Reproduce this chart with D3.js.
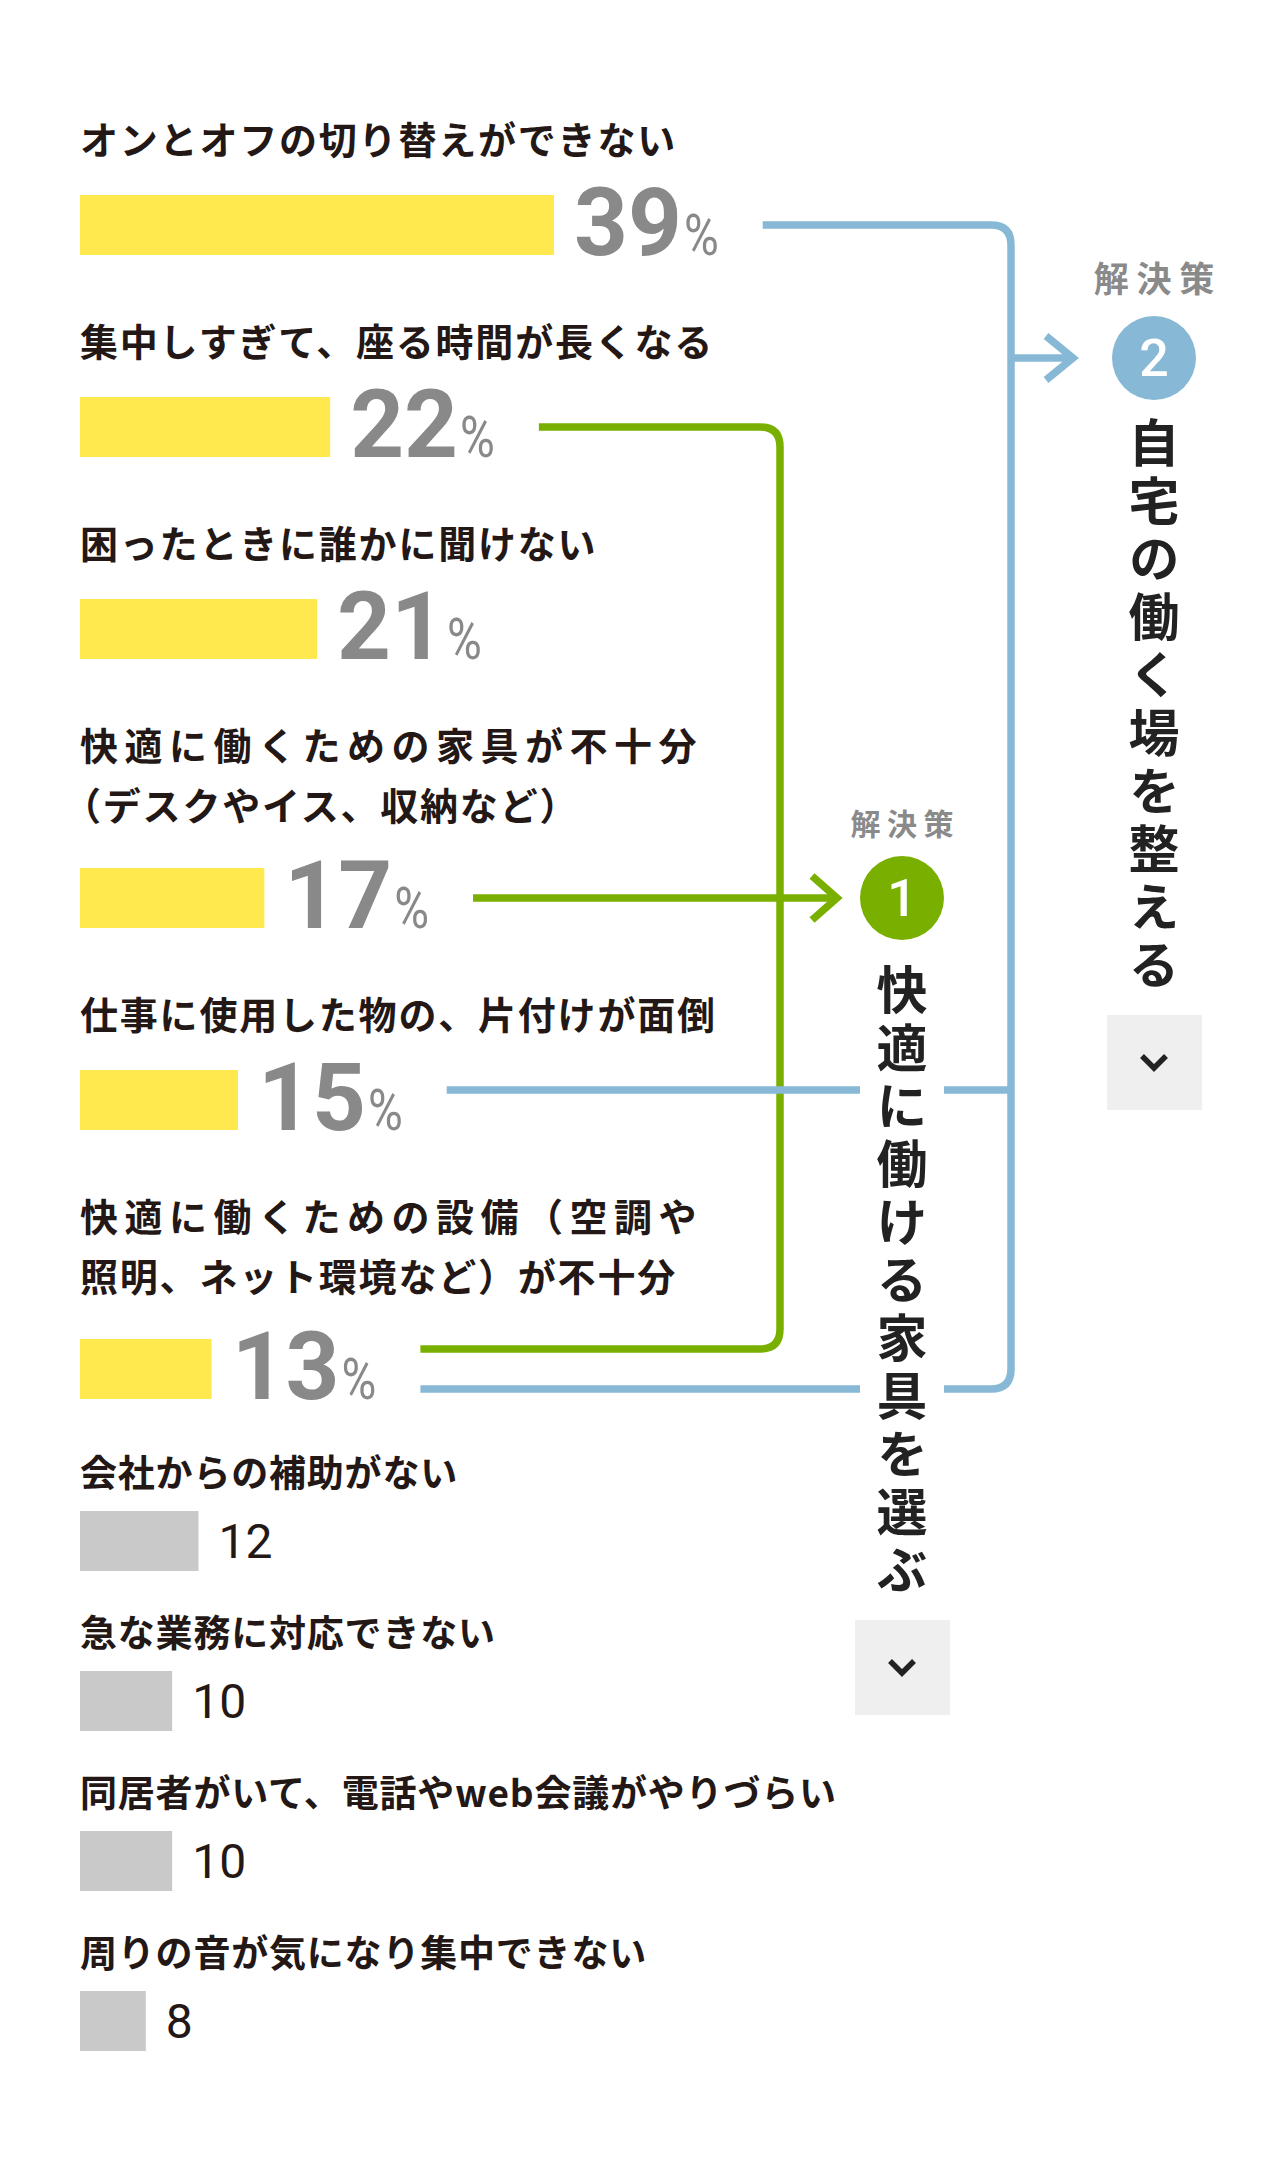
<!DOCTYPE html>
<html><head><meta charset="utf-8">
<script src="https://cdn.jsdelivr.net/npm/d3@7"></script>
<style>
html,body{margin:0;padding:0;background:#fff;}
svg{display:block;}
</style></head><body>
<svg id="chart" width="1280" height="2160"></svg>
<script>
// ---- data ----
const categories = [
  ["オンとオフの切り替えができない"],
  ["集中しすぎて、座る時間が長くなる"],
  ["困ったときに誰かに聞けない"],
  ["快適に働くための家具が不十分", "（デスクやイス、収納など）"],
  ["仕事に使用した物の、片付けが面倒"],
  ["快適に働くための設備（空調や", "照明、ネット環境など）が不十分"],
  ["会社からの補助がない"],
  ["急な業務に対応できない"],
  ["同居者がいて、電話やweb会議がやりづらい"],
  ["周りの音が気になり集中できない"]
];
const values = [39, 22, 21, 17, 15, 13, 12, 10, 10, 8];
const highlighted = [true, true, true, true, true, true, false, false, false, false];
const solution1Rows = [1, 3, 5];   // 快適に働ける家具を選ぶ
const solution1Target = 3;
const solution2Rows = [0, 4, 5];   // 自宅の働く場を整える
const solutionTitles = ["快適に働ける家具を選ぶ", "自宅の働く場を整える"];
const solutionNumbers = ["1", "2"];
const solutionLabel = "解決策";

// ---- style ----
const C = {yellow:"#ffe94f", gray:"#c9c9c9", green:"#79b000", blue:"#87b9d7",
           text:"#231815", num:"#898989", dark:"#222222", box:"#efefef", label:"#8a8a8a"};
const JP = "'Noto Sans CJK JP','Noto Sans CJK SC',sans-serif";
const NUM = "Roboto,'Liberation Sans',sans-serif";

const svg = d3.select("#chart");
const X0 = 80;
const x = d3.scaleLinear().domain([3, 39]).range([0, 474]);

// ---- layout rows ----
let yCur = 140;
const rows = categories.map((lines, i) => {
  const hl = highlighted[i];
  const r = {i, lines, v: values[i], hl, titleY: yCur};
  const lastLine = yCur + (lines.length - 1) * 60;
  r.barC = lastLine + (hl ? (lines.length > 1 ? 92 : 85) : 68);
  const nextHl = highlighted[i + 1];
  yCur = r.barC + (hl ? (nextHl ? 117 : 104) : 92);
  return r;
});

const gRows = svg.append("g");
rows.forEach(r => {
  r.lines.forEach((t, k) => {
    const multiFirst = r.lines.length > 1 && k === 0;
    gRows.append("text")
      .attr("x", X0 + (t.startsWith("（") ? -17 : 0)).attr("y", r.titleY + k * 60 + 14)
      .attr("font-family", JP).attr("font-weight", 700)
      .attr("font-size", r.hl ? 38 : 37)
      .attr("letter-spacing", r.hl ? (multiFirst ? 6.5 : 1.8) : 0.8)
      .attr("fill", C.text).text(t);
  });
  const w = x(r.v);
  gRows.append("rect").attr("x", X0).attr("y", r.barC - 30)
    .attr("width", w).attr("height", 60).attr("fill", r.hl ? C.yellow : C.gray);
  if (r.hl) {
    const nx = X0 + w + 20;
    const nt = gRows.append("text").attr("x", nx).attr("y", r.barC + 30)
      .attr("font-family", NUM).attr("font-weight", 700).attr("font-size", 94)
      .attr("fill", C.num).text(r.v);
    const nEnd = nx + nt.node().getComputedTextLength();
    const pt = gRows.append("text")
      .attr("transform", `translate(${nEnd + 2},${r.barC + 30}) scale(0.82,1)`)
      .attr("font-family", NUM).attr("font-weight", 400).attr("font-size", 58)
      .attr("fill", C.num).text("%");
    r.lineX = nEnd + 2 + pt.node().getComputedTextLength() * 0.82 + 44;
  } else {
    gRows.append("text").attr("x", X0 + w + 20).attr("y", r.barC + 17)
      .attr("font-family", NUM).attr("font-weight", 400).attr("font-size", 48)
      .attr("fill", C.text).text(r.v);
  }
});

// ---- connectors ----
const SW = 7.5, R = 20;
const greenX = 780, blueX = 1011;
const s1 = {x: 902, y: rows[solution1Target].barC};
const s2 = {x: 1154, y: 358};
const gapL = s1.x - 42, gapR = s1.x + 42;
const shared = solution1Rows.filter(i => solution2Rows.includes(i));
const yG = i => rows[i].barC + (shared.includes(i) ? -20 : 0);
const yB = i => rows[i].barC + (shared.includes(i) ? 20 : 0);

const gLines = svg.append("g").attr("fill", "none").attr("stroke-width", SW);

// green
const gTop = solution1Rows[0], gBot = solution1Rows[solution1Rows.length - 1];
const y1 = yG(gTop), y2 = yG(gBot);
gLines.append("path").attr("stroke", C.green)
  .attr("d", `M${rows[gTop].lineX},${y1} H${greenX - R} Q${greenX},${y1} ${greenX},${y1 + R} V${y2 - R} Q${greenX},${y2} ${greenX - R},${y2} H${rows[gBot].lineX}`);
const ya = yG(solution1Target);
const tip1 = s1.x - 65;
gLines.append("path").attr("stroke", C.green)
  .attr("d", `M${rows[solution1Target].lineX},${ya} H${tip1 - 3}`);
gLines.append("path").attr("stroke", C.green).attr("stroke-linejoin", "miter")
  .attr("d", `M${tip1 - 25},${ya - 22} L${tip1},${ya} L${tip1 - 25},${ya + 22}`);

// blue
const bTop = solution2Rows[0], bBot = solution2Rows[solution2Rows.length - 1];
const b1 = yB(bTop), b2 = yB(bBot);
gLines.append("path").attr("stroke", C.blue)
  .attr("d", `M${rows[bTop].lineX},${b1} H${blueX - R} Q${blueX},${b1} ${blueX},${b1 + R} V${b2 - R} Q${blueX},${b2} ${blueX - R},${b2} H${gapR} M${gapL},${b2} H${rows[bBot].lineX}`);
solution2Rows.slice(1, -1).forEach(i => {
  const yy = yB(i) - 10;
  gLines.append("path").attr("stroke", C.blue)
    .attr("d", `M${rows[i].lineX},${yy} H${gapL} M${gapR},${yy} H${blueX}`);
});
const tip2 = s2.x - 81;
gLines.append("path").attr("stroke", C.blue)
  .attr("d", `M${blueX},${s2.y} H${tip2 - 3}`);
gLines.append("path").attr("stroke", C.blue).attr("stroke-linejoin", "miter")
  .attr("d", `M${tip2 - 27},${s2.y - 22} L${tip2},${s2.y} L${tip2 - 27},${s2.y + 22}`);

// ---- solution blocks ----
function solution(s, idx, color, labelSize, labelDy, textDy) {
  const g = svg.append("g");
  g.append("text").attr("x", s.x + labelSize * 0.11).attr("y", s.y + labelDy)
    .attr("text-anchor", "middle").attr("font-family", JP).attr("font-weight", 700)
    .attr("font-size", labelSize).attr("letter-spacing", labelSize * 0.22)
    .attr("fill", C.label).text(solutionLabel);
  g.append("circle").attr("cx", s.x).attr("cy", s.y).attr("r", 42).attr("fill", color);
  g.append("text").attr("x", s.x).attr("y", s.y + 18).attr("text-anchor", "middle")
    .attr("font-family", NUM).attr("font-weight", 500).attr("font-size", 52)
    .attr("fill", "#fff").text(solutionNumbers[idx]);
  const chars = Array.from(solutionTitles[idx]);
  const fs = 51, pitch = 58;
  const firstC = s.y + textDy;
  g.append("text").attr("x", s.x).attr("y", firstC - fs / 2)
    .style("writing-mode", "vertical-rl")
    .attr("font-family", JP).attr("font-weight", 700).attr("font-size", fs)
    .attr("letter-spacing", pitch - fs).attr("fill", C.dark).text(solutionTitles[idx]);
  const bc = firstC + (chars.length - 1) * pitch + 97;
  g.append("rect").attr("x", s.x - 47).attr("y", bc - 47).attr("width", 95).attr("height", 95)
    .attr("fill", C.box);
  g.append("path").attr("fill", "none").attr("stroke", C.dark).attr("stroke-width", 5.5)
    .attr("stroke-linejoin", "miter")
    .attr("d", `M${s.x - 12},${bc - 6} L${s.x},${bc + 6} L${s.x + 12},${bc - 6}`);
}
solution(s1, 0, C.green, 30, -63, 92);
solution(s2, 1, C.blue, 35, -66, 85);
</script>
</body></html>
